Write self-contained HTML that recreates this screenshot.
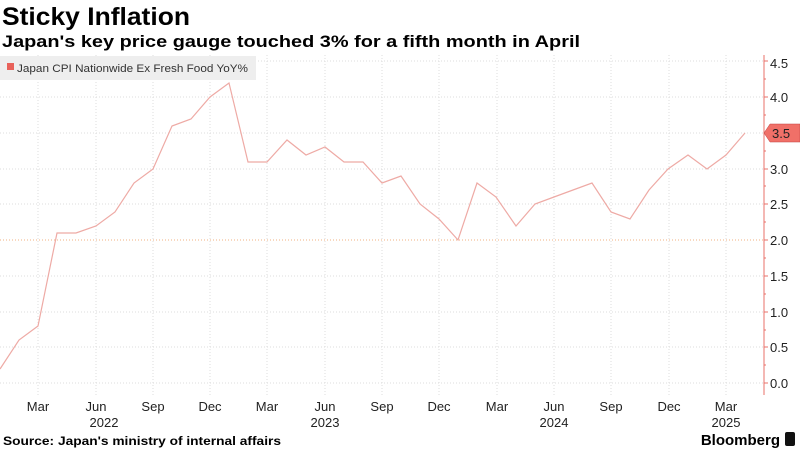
<!DOCTYPE html><html><head><style>body{margin:0;background:#fff;font-family:"Liberation Sans",sans-serif}</style></head><body>
<svg width="800" height="450" xmlns="http://www.w3.org/2000/svg" font-family="Liberation Sans, sans-serif">
<text x="2" y="25" font-size="25" font-weight="bold" textLength="188" lengthAdjust="spacingAndGlyphs">Sticky Inflation</text>
<text x="2" y="47" font-size="17" font-weight="bold" textLength="578" lengthAdjust="spacingAndGlyphs">Japan's key price gauge touched 3% for a fifth month in April</text>
<g stroke="#ddd" stroke-dasharray="1,2" stroke-width="1">
<line x1="0" x2="764" y1="61" y2="61"/><line x1="0" x2="764" y1="97" y2="97"/><line x1="0" x2="764" y1="133" y2="133"/><line x1="0" x2="764" y1="169" y2="169"/><line x1="0" x2="764" y1="204" y2="204"/><line x1="0" x2="764" y1="276" y2="276"/><line x1="0" x2="764" y1="312" y2="312"/><line x1="0" x2="764" y1="347" y2="347"/><line x1="0" x2="764" y1="383" y2="383"/>
<line x1="38" x2="38" y1="55" y2="395"/><line x1="96" x2="96" y1="55" y2="395"/><line x1="153" x2="153" y1="55" y2="395"/><line x1="210" x2="210" y1="55" y2="395"/><line x1="267" x2="267" y1="55" y2="395"/><line x1="325" x2="325" y1="55" y2="395"/><line x1="382" x2="382" y1="55" y2="395"/><line x1="439" x2="439" y1="55" y2="395"/><line x1="497" x2="497" y1="55" y2="395"/><line x1="554" x2="554" y1="55" y2="395"/><line x1="611" x2="611" y1="55" y2="395"/><line x1="669" x2="669" y1="55" y2="395"/><line x1="726" x2="726" y1="55" y2="395"/>
</g>
<line x1="0" x2="764" y1="240" y2="240" stroke="#f0b080" stroke-dasharray="1,2"/>
<rect x="0" y="56" width="256" height="24" fill="#eee"/>
<rect x="7" y="63" width="7" height="7" fill="#e8615a"/>
<text x="17" y="72" font-size="11" fill="#333" textLength="231" lengthAdjust="spacingAndGlyphs">Japan CPI Nationwide Ex Fresh Food YoY%</text>
<polyline fill="none" stroke="#eeaaa5" stroke-width="1.2" points="0,369 19,340 38,326 57,233 76,233 96,226 115,212 134,183 153,169 172,126 191,119 210,97 229,83 248,162 267,162 287,140 306,155 325,147 344,162 363,162 382,183 401,176 420,204 439,219 458,240 477,183 496,197 516,226 535,204 554,197 573,190 592,183 611,212 630,219 649,190 668,169 688,155 707,169 726,155 745,133"/>
<line x1="764" x2="764" y1="55" y2="395" stroke="#e8716a"/>
<g stroke="#e8716a"><line x1="764" x2="768" y1="61" y2="61"/><line x1="764" x2="768" y1="97" y2="97"/><line x1="764" x2="768" y1="169" y2="169"/><line x1="764" x2="768" y1="204" y2="204"/><line x1="764" x2="768" y1="240" y2="240"/><line x1="764" x2="768" y1="276" y2="276"/><line x1="764" x2="768" y1="312" y2="312"/><line x1="764" x2="768" y1="347" y2="347"/><line x1="764" x2="768" y1="383" y2="383"/>
<line x1="764" x2="766" y1="79" y2="79"/><line x1="764" x2="766" y1="115" y2="115"/><line x1="764" x2="766" y1="151" y2="151"/><line x1="764" x2="766" y1="186" y2="186"/><line x1="764" x2="766" y1="222" y2="222"/><line x1="764" x2="766" y1="258" y2="258"/><line x1="764" x2="766" y1="294" y2="294"/><line x1="764" x2="766" y1="330" y2="330"/><line x1="764" x2="766" y1="365" y2="365"/></g>
<g font-size="13" fill="#222">
<text x="770" y="68">4.5</text><text x="770" y="102">4.0</text><text x="770" y="174">3.0</text><text x="770" y="209">2.5</text><text x="770" y="245">2.0</text><text x="770" y="281">1.5</text><text x="770" y="317">1.0</text><text x="770" y="352">0.5</text><text x="770" y="388">0.0</text>
</g>
<polygon points="764,133 770,124 800,124 800,142 770,142" fill="#f07068" stroke="#c04040" stroke-width="0.5"/>
<text x="772" y="138" font-size="13" fill="#222">3.5</text>
<g font-size="13" fill="#222" text-anchor="middle">
<text x="38" y="411">Mar</text><text x="96" y="411">Jun</text><text x="153" y="411">Sep</text><text x="210" y="411">Dec</text><text x="267" y="411">Mar</text><text x="325" y="411">Jun</text><text x="382" y="411">Sep</text><text x="439" y="411">Dec</text><text x="497" y="411">Mar</text><text x="554" y="411">Jun</text><text x="611" y="411">Sep</text><text x="669" y="411">Dec</text><text x="726" y="411">Mar</text>
<text x="104" y="427">2022</text><text x="325" y="427">2023</text><text x="554" y="427">2024</text><text x="726" y="427">2025</text>
</g>
<text x="3" y="445" font-size="12" font-weight="bold" textLength="278" lengthAdjust="spacingAndGlyphs">Source: Japan's ministry of internal affairs</text>
<text x="780" y="445" font-size="15" font-weight="bold" text-anchor="end">Bloomberg</text>
<rect x="785" y="432" width="10" height="14" rx="2" fill="#111"/>
</svg></body></html>
